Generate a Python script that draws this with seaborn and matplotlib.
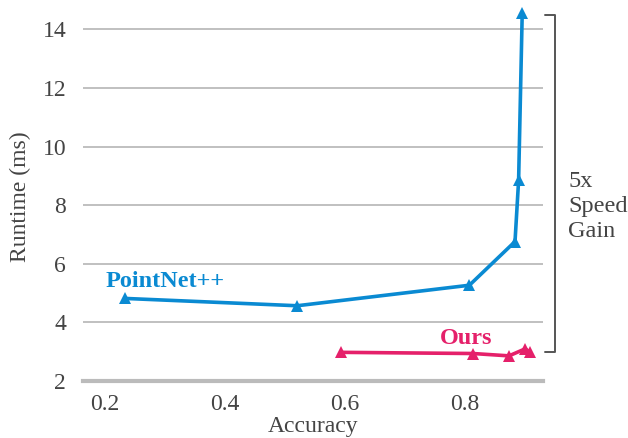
import numpy as np
import pandas as pd
from matplotlib import pyplot as plt
import seaborn as sns

# data
pointnet_acc = [0.233, 0.52, 0.807, 0.883, 0.889, 0.895]
pointnet_rt = [4.82, 4.57, 5.27, 6.76, 8.85, 14.55]
ours_acc = [0.593, 0.813, 0.873, 0.900, 0.908]
ours_rt = [2.98, 2.94, 2.86, 3.10, 2.98]

blue = '#0a8ad2'
pink = '#e5206a'
gray_text = '#444444'

sns.set_style('white')
plt.rcParams['font.family'] = ['Liberation Serif', 'DejaVu Serif']

fig = plt.figure(figsize=(6.28, 4.38), dpi=100)
ax = fig.add_axes([0.132, 0.130, 0.733, 0.843])

df_pn = pd.DataFrame({'Accuracy': pointnet_acc, 'Runtime': pointnet_rt})
df_ours = pd.DataFrame({'Accuracy': ours_acc, 'Runtime': ours_rt})

sns.lineplot(data=df_pn, x='Accuracy', y='Runtime', marker='^', markersize=9,
             color=blue, linewidth=2.6, markeredgewidth=0, sort=False, ax=ax,
             clip_on=False, zorder=5)
sns.lineplot(data=df_ours, x='Accuracy', y='Runtime', marker='^', markersize=9,
             color=pink, linewidth=2.6, markeredgewidth=0, sort=False, ax=ax,
             clip_on=False, zorder=5)

ax.set_xlim(0.163, 0.93)
ax.set_ylim(2, 14.6)
ax.set_xticks([0.2, 0.4, 0.6, 0.8])
ax.set_yticks([2, 4, 6, 8, 10, 12, 14])
ax.set_xticklabels(['0.2', '0.4', '0.6', '0.8'])
ax.grid(axis='y', color='#bbbbbb', linewidth=1.3)
ax.grid(axis='x', visible=False)
for s in ['top', 'right', 'left']:
    ax.spines[s].set_visible(False)
ax.spines['bottom'].set_color('#bbbbbb')
ax.spines['bottom'].set_linewidth(3)
ax.tick_params(axis='x', direction='in', length=7, width=1, color='#bbbbbb',
               labelsize=17, labelcolor=gray_text, pad=9)
ax.tick_params(axis='y', length=0, labelsize=17, labelcolor=gray_text, pad=12)
ax.set_xlabel('Accuracy', fontsize=17, color=gray_text, labelpad=1)
ax.set_ylabel('Runtime (ms)', fontsize=17, color=gray_text, labelpad=8)

ax.text(0.2, 5.2, 'PointNet++', color=blue, fontsize=17.5, fontweight='bold',
        ha='left', va='baseline')
ax.text(0.758, 3.28, 'Ours', color=pink, fontsize=17.5, fontweight='bold',
        ha='left', va='baseline')

# speed gain bracket
top = max(pointnet_rt) - 0.05
bot = ours_rt[0]
bx = 0.95
ax.plot([bx - 0.017, bx, bx, bx - 0.017], [top, top, bot, bot], color='#555555',
        linewidth=1.4, clip_on=False)
ax.text(bx + 0.022, 7.95, '5x\nSpeed\nGain', fontsize=17.5,
        color=gray_text, ha='left', va='center', linespacing=1.25)

fig.savefig('out.png', dpi=100)
